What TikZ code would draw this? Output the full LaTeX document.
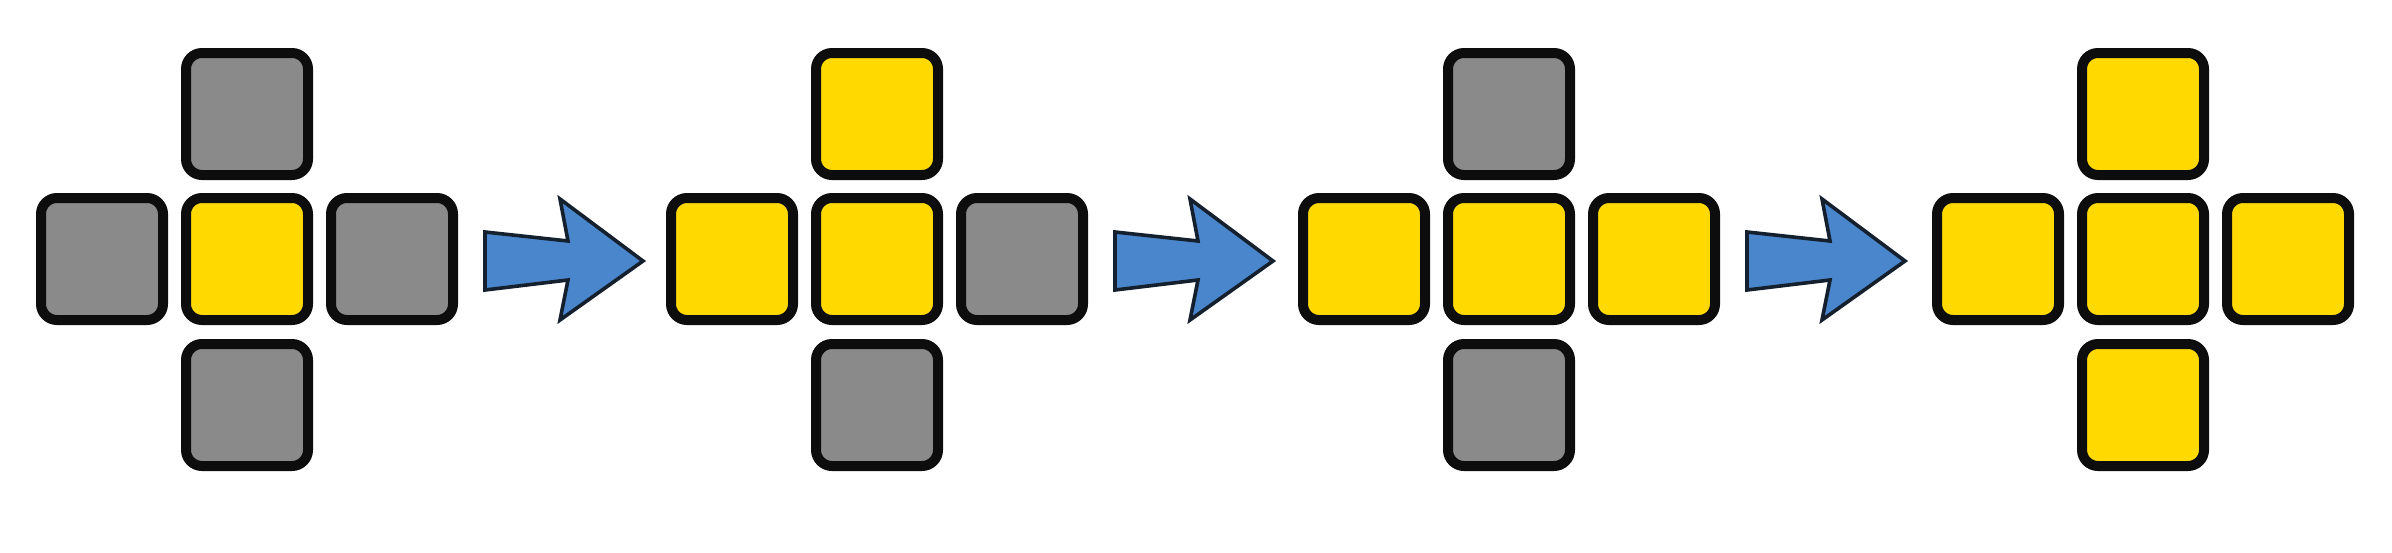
\documentclass[tikz,border=0pt]{standalone}
\usetikzlibrary{calc}
\definecolor{tileyellow}{HTML}{FFD900}
\definecolor{tilegray}{HTML}{8A8A8A}
\definecolor{tileedge}{HTML}{0D0D0D}
\definecolor{arrowblue}{HTML}{4A86CC}
\definecolor{arrowedge}{HTML}{14202E}
\tikzset{
  tile/.style={draw=tileedge, line width=5pt, rounded corners=8pt,
    minimum width=61pt, minimum height=61pt, inner sep=0pt},
  tileon/.style={tile, fill=tileyellow},
  tileoff/.style={tile, fill=tilegray},
  blockarrow/.style={fill=arrowblue, draw=arrowedge, line width=1.8pt, line join=miter}
}
% #1 prefix, #2 centre x, #3 centre, #4 top, #5 left, #6 right, #7 bottom
\newcommand\crossgroup[7]{%
  \node[#3] (#1c) at (#2,259) {};
  \node[#4] (#1t) at ($(#1c)+(0,-145)$) {};
  \node[#5] (#1l) at ($(#1c)+(-145,0)$) {};
  \node[#6] (#1r) at ($(#1c)+(145,0)$) {};
  \node[#7] (#1b) at ($(#1c)+(0,146)$) {};
}
\newcommand\blockarrowat[1]{%
  \draw[blockarrow, shift={(#1)}] (0,-28) -- (83,-19) -- (75,-61) -- (158,1)
    -- (75,60) -- (83,20) -- (0,30) -- cycle;
}
\begin{document}
\begin{tikzpicture}[x=0.5pt,y=-0.5pt]
\useasboundingbox (0,0) rectangle (2392,552);
\crossgroup{ga}{247}{tileon}{tileoff}{tileoff}{tileoff}{tileoff}
\crossgroup{gb}{877}{tileon}{tileon}{tileon}{tileoff}{tileoff}
\crossgroup{gc}{1509}{tileon}{tileoff}{tileon}{tileon}{tileoff}
\crossgroup{gd}{2143}{tileon}{tileon}{tileon}{tileon}{tileon}
\coordinate (a1) at ($(gac.center)+(238,1)$);
\coordinate (a2) at ($(gbc.center)+(238,1)$);
\coordinate (a3) at ($(gcc.center)+(238,1)$);
\blockarrowat{a1}
\blockarrowat{a2}
\blockarrowat{a3}
\end{tikzpicture}
\end{document}
